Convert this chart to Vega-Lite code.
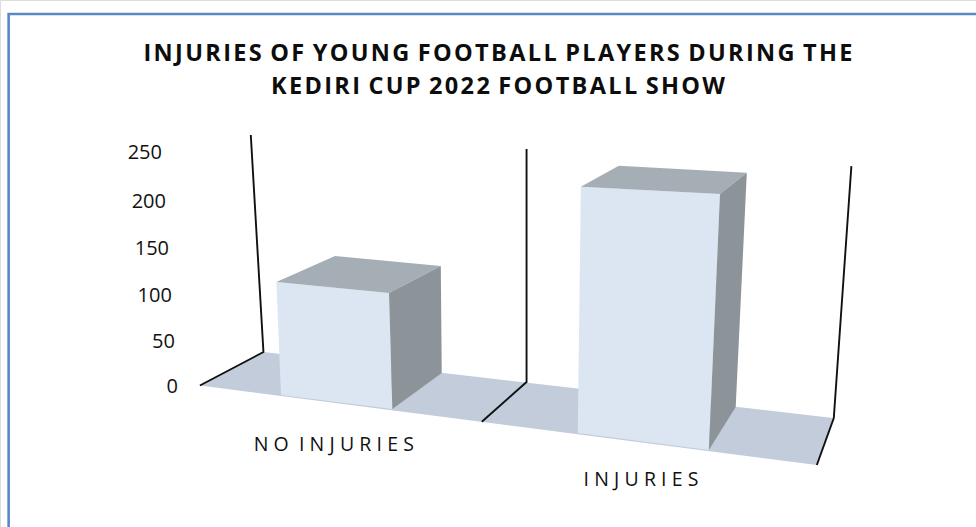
{
  "$schema": "https://vega.github.io/schema/vega-lite/v6.json",
  "width": 976,
  "height": 527,
  "padding": 0,
  "autosize": "none",
  "background": "white",
  "title": {
    "text": ["I\u200aN\u200aJ\u200aU\u200aR\u200aI\u200aE\u200aS \u200aO\u200aF \u200aY\u200aO\u200aU\u200aN\u200aG \u200aF\u200aO\u200aO\u200aT\u200aB\u200aA\u200aL\u200aL \u200aP\u200aL\u200aA\u200aY\u200aE\u200aR\u200aS \u200aD\u200aU\u200aR\u200aI\u200aN\u200aG \u200aT\u200aH\u200aE", "K\u200aE\u200aD\u200aI\u200aR\u200aI \u200aC\u200aU\u200aP \u200a2\u200a0\u200a2\u200a2 \u200aF\u200aO\u200aO\u200aT\u200aB\u200aA\u200aL\u200aL \u200aS\u200aH\u200aO\u200aW"],
    "anchor": "middle",
    "frame": "group",
    "orient": "top",
    "font": "Open Sans",
    "fontSize": 23.5,
    "fontWeight": "bold",
    "color": "#0d0d0d",
    "lineHeight": 33,
    "dx": 10,
    "dy": 102
  },
  "datasets": {
    "floor": [
      {"shape": "floor", "i": 0, "u": 0, "v": 1.3},
      {"shape": "floor", "i": 1, "u": 0.206, "v": 37.1},
      {"shape": "floor", "i": 2, "u": 2.052, "v": -33.5},
      {"shape": "floor", "i": 3, "u": 2.0, "v": -83.7}
    ],
    "bars": [
      {"shape": "no-front", "face": "front", "i": 0, "u": 0.248, "v": 112.0},
      {"shape": "no-front", "face": "front", "i": 1, "u": 0.613, "v": 100.2},
      {"shape": "no-front", "face": "front", "i": 2, "u": 0.624, "v": -23.9},
      {"shape": "no-front", "face": "front", "i": 3, "u": 0.263, "v": -8.9},
      {"shape": "no-top", "face": "top", "i": 0, "u": 0.248, "v": 112.0},
      {"shape": "no-top", "face": "top", "i": 1, "u": 0.438, "v": 139.8},
      {"shape": "no-top", "face": "top", "i": 2, "u": 0.781, "v": 129.1},
      {"shape": "no-top", "face": "top", "i": 3, "u": 0.613, "v": 100.2},
      {"shape": "no-side", "face": "side", "i": 0, "u": 0.613, "v": 100.2},
      {"shape": "no-side", "face": "side", "i": 1, "u": 0.781, "v": 129.1},
      {"shape": "no-side", "face": "side", "i": 2, "u": 0.784, "v": 14.7},
      {"shape": "no-side", "face": "side", "i": 3, "u": 0.624, "v": -23.9},
      {"shape": "yes-front", "face": "front", "i": 0, "u": 1.235, "v": 213.9},
      {"shape": "yes-front", "face": "front", "i": 1, "u": 1.686, "v": 206.1},
      {"shape": "yes-front", "face": "front", "i": 2, "u": 1.65, "v": -67.7},
      {"shape": "yes-front", "face": "front", "i": 3, "u": 1.225, "v": -49.5},
      {"shape": "yes-top", "face": "top", "i": 0, "u": 1.235, "v": 213.9},
      {"shape": "yes-top", "face": "top", "i": 1, "u": 1.358, "v": 236.4},
      {"shape": "yes-top", "face": "top", "i": 2, "u": 1.773, "v": 228.9},
      {"shape": "yes-top", "face": "top", "i": 3, "u": 1.686, "v": 206.1},
      {"shape": "yes-side", "face": "side", "i": 0, "u": 1.686, "v": 206.1},
      {"shape": "yes-side", "face": "side", "i": 1, "u": 1.773, "v": 228.9},
      {"shape": "yes-side", "face": "side", "i": 2, "u": 1.737, "v": -21.7},
      {"shape": "yes-side", "face": "side", "i": 3, "u": 1.65, "v": -67.7}
    ],
    "walls": [
      {"wall": "a", "i": 0, "u": 0, "v": 1.3},
      {"wall": "a", "i": 1, "u": 0.206, "v": 37.1},
      {"wall": "a", "i": 2, "u": 0.165, "v": 269.2},
      {"wall": "b", "i": 0, "u": 0.914, "v": -37.4},
      {"wall": "b", "i": 1, "u": 1.059, "v": 5.0},
      {"wall": "b", "i": 2, "u": 1.059, "v": 254.2},
      {"wall": "c", "i": 0, "u": 2.0, "v": -83.7},
      {"wall": "c", "i": 1, "u": 2.055, "v": -33.5},
      {"wall": "c", "i": 2, "u": 2.112, "v": 236.0}
    ],
    "frame": [
      {"i": 0, "u": 2.516, "v": 398.6},
      {"i": 1, "u": -0.62, "v": 398.6},
      {"i": 2, "u": -0.62, "v": -150}
    ],
    "ticks": [
      {"label": "250", "u": -0.123, "v": 249.9},
      {"label": "200", "u": -0.11, "v": 197.5},
      {"label": "150", "u": -0.1, "v": 147.3},
      {"label": "100", "u": -0.091, "v": 97.3},
      {"label": "50", "u": -0.081, "v": 47.8},
      {"label": "0", "u": -0.071, "v": 0}
    ],
    "categories": [
      {"label": "N\u2009\u200aO \u2009\u200aI\u2009\u200aN\u2009\u200aJ\u2009\u200aU\u2009\u200aR\u2009\u200aI\u2009\u200aE\u2009\u200aS", "u": 0.434, "v": -62.4},
      {"label": "I\u2009\u200aN\u2009\u200aJ\u2009\u200aU\u2009\u200aR\u2009\u200aI\u2009\u200aE\u2009\u200aS", "u": 1.43, "v": -99.8}
    ]
  },
  "encoding": {
    "x": {"field": "u", "type": "quantitative", "axis": null, "scale": {"domain": [-0.648, 2.516], "nice": false, "zero": false}},
    "y": {"field": "v", "type": "quantitative", "axis": null, "scale": {"domain": [-150, 413.6], "nice": false, "zero": false}}
  },
  "layer": [
    {
      "data": {"name": "frame"},
      "mark": {"type": "line", "stroke": "#5b87c5", "strokeWidth": 2.6, "strokeJoin": "miter"},
      "encoding": {"order": {"field": "i"}}
    },
    {
      "data": {"name": "floor"},
      "mark": {"type": "line", "fill": "#c2ccdb", "strokeWidth": 0, "stroke": null},
      "encoding": {"order": {"field": "i"}}
    },
    {
      "data": {"name": "walls"},
      "mark": {"type": "line", "stroke": "#111111", "strokeWidth": 1.9, "strokeJoin": "miter"},
      "encoding": {"detail": {"field": "wall"}, "order": {"field": "i"}}
    },
    {
      "data": {"name": "bars"},
      "mark": {"type": "line", "strokeWidth": 0, "stroke": null},
      "encoding": {
        "detail": {"field": "shape"},
        "order": {"field": "i"},
        "fill": {"field": "face", "type": "nominal", "legend": null, "scale": {"domain": ["front", "top", "side"], "range": ["#dce6f2", "#a6aeb5", "#8c9399"]}}
      }
    },
    {
      "data": {"name": "ticks"},
      "mark": {"type": "text", "align": "right", "baseline": "middle", "font": "Open Sans", "fontSize": 20, "color": "#111111"},
      "encoding": {"text": {"field": "label"}}
    },
    {
      "data": {"name": "categories"},
      "mark": {"type": "text", "align": "center", "baseline": "middle", "font": "Open Sans", "fontSize": 19.5, "color": "#111111"},
      "encoding": {"text": {"field": "label"}}
    }
  ]
}
